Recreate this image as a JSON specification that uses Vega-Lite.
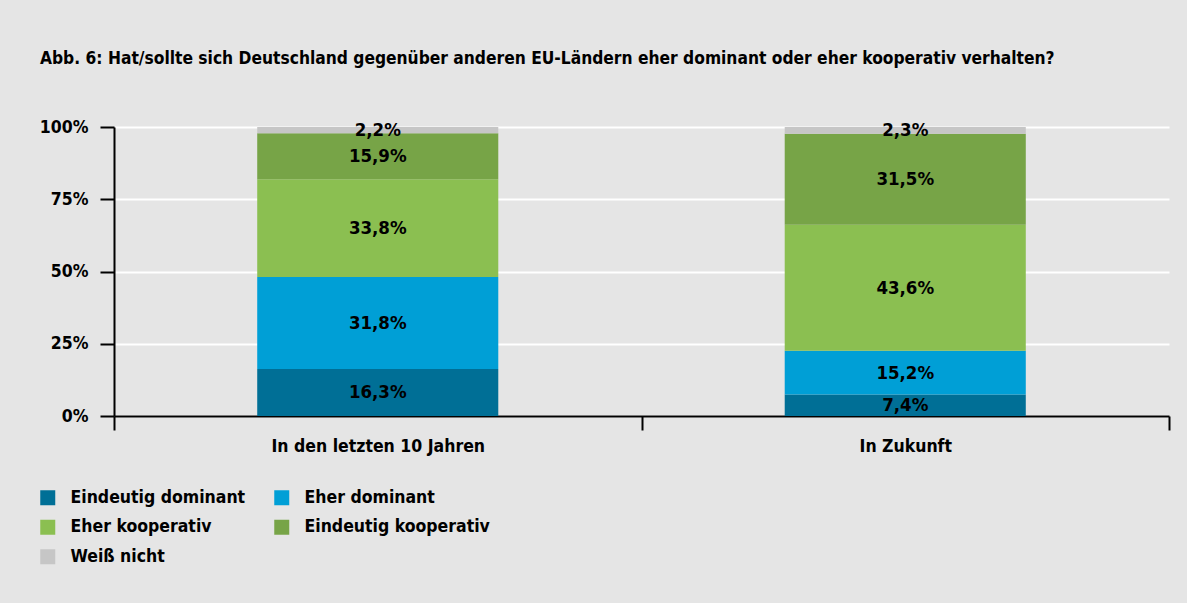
{
  "$schema": "https://vega.github.io/schema/vega-lite/v6.json",
  "autosize": {"type": "none"},
  "width": 1055,
  "height": 289,
  "padding": {"left": 114, "top": 127, "right": 18, "bottom": 187},
  "background": "#e5e5e5",
  "title": {
    "text": "Abb. 6: Hat/sollte sich Deutschland gegenüber anderen EU-Ländern eher dominant oder eher kooperativ verhalten?",
    "anchor": "start",
    "frame": "group",
    "dx": -74,
    "offset": 51,
    "font": "DejaVu Sans Condensed",
    "fontSize": 17.25,
    "fontWeight": "bold",
    "color": "#000000"
  },
  "config": {
    "locale": {"number": {"decimal": ",", "thousands": ".", "grouping": [3], "currency": ["", " €"]}},
    "view": {"stroke": null},
    "font": "DejaVu Sans Condensed",
    "legend": {"gridAlign": "none"}
  },
  "data": {
    "values": [
      {"Zeitraum": "In den letzten 10 Jahren", "Antwort": "Eindeutig dominant", "rank": 1, "value": 0.163},
      {"Zeitraum": "In den letzten 10 Jahren", "Antwort": "Eher dominant", "rank": 2, "value": 0.318},
      {"Zeitraum": "In den letzten 10 Jahren", "Antwort": "Eher kooperativ", "rank": 3, "value": 0.338},
      {"Zeitraum": "In den letzten 10 Jahren", "Antwort": "Eindeutig kooperativ", "rank": 4, "value": 0.159},
      {"Zeitraum": "In den letzten 10 Jahren", "Antwort": "Weiß nicht", "rank": 5, "value": 0.022},
      {"Zeitraum": "In Zukunft", "Antwort": "Eindeutig dominant", "rank": 1, "value": 0.074},
      {"Zeitraum": "In Zukunft", "Antwort": "Eher dominant", "rank": 2, "value": 0.152},
      {"Zeitraum": "In Zukunft", "Antwort": "Eher kooperativ", "rank": 3, "value": 0.436},
      {"Zeitraum": "In Zukunft", "Antwort": "Eindeutig kooperativ", "rank": 4, "value": 0.315},
      {"Zeitraum": "In Zukunft", "Antwort": "Weiß nicht", "rank": 5, "value": 0.023}
    ]
  },
  "transform": [
    {"stack": "value", "groupby": ["Zeitraum"], "sort": [{"field": "rank", "order": "ascending"}], "as": ["v0", "v1"]},
    {"calculate": "(datum.v0 + datum.v1) / 2", "as": "mid"}
  ],
  "encoding": {
    "x": {
      "field": "Zeitraum",
      "type": "nominal",
      "sort": ["In den letzten 10 Jahren", "In Zukunft"],
      "title": null,
      "scale": {"paddingInner": 0, "paddingOuter": 0},
      "axis": {
        "tickBand": "extent",
        "labelAngle": 0,
        "labelLimit": 500,
        "domainColor": "#000000",
        "domainWidth": 2,
        "tickColor": "#000000",
        "tickWidth": 2,
        "tickSize": 14,
        "labelPadding": 7,
        "labelFont": "DejaVu Sans Condensed",
        "labelFontSize": 17.5,
        "labelFontWeight": "bold",
        "labelColor": "#000000",
        "grid": false
      }
    }
  },
  "layer": [
    {
      "mark": {"type": "bar", "width": {"band": 0.457}},
      "encoding": {
        "y": {
          "field": "v0",
          "type": "quantitative",
          "scale": {"domain": [0, 1], "nice": false},
          "title": null,
          "axis": {
            "values": [0, 0.25, 0.5, 0.75, 1],
            "format": ".0%",
            "domainColor": "#000000",
            "domainWidth": 2,
            "tickColor": "#000000",
            "tickWidth": 2,
            "tickSize": 14,
            "labelPadding": 12,
            "labelFont": "DejaVu Sans Condensed",
            "labelFontSize": 17.5,
            "labelFontWeight": "bold",
            "labelColor": "#000000",
            "grid": true,
            "gridColor": "#ffffff",
            "gridWidth": 2,
            "gridOpacity": 1
          }
        },
        "y2": {"field": "v1"},
        "color": {
          "field": "Antwort",
          "type": "nominal",
          "sort": ["Eindeutig dominant", "Eher dominant", "Eher kooperativ", "Eindeutig kooperativ", "Weiß nicht"],
          "scale": {
            "domain": ["Eindeutig dominant", "Eher dominant", "Eher kooperativ", "Eindeutig kooperativ", "Weiß nicht"],
            "range": ["#006f96", "#009fd6", "#8bbf51", "#77a447", "#c6c6c6"]
          },
          "legend": {
            "title": null,
            "orient": "none",
            "legendX": -75,
            "legendY": 362,
            "direction": "horizontal",
            "columns": 2,
            "gridAlign": "none",
            "columnPadding": 27,
            "rowPadding": 10.5,
            "symbolType": "square",
            "symbolSize": 225,
            "symbolStrokeWidth": 0,
            "symbolOpacity": 1,
            "labelOffset": 14,
            "labelFont": "DejaVu Sans Condensed",
            "labelFontSize": 17.5,
            "labelFontWeight": "bold",
            "labelColor": "#000000",
            "labelLimit": 400
          }
        }
      }
    },
    {
      "mark": {"type": "text", "font": "DejaVu Sans Condensed", "fontSize": 18.5, "fontWeight": "bold", "color": "#000000", "baseline": "middle"},
      "encoding": {
        "y": {"field": "mid", "type": "quantitative"},
        "text": {"field": "value", "type": "quantitative", "format": ".1%"}
      }
    }
  ]
}
